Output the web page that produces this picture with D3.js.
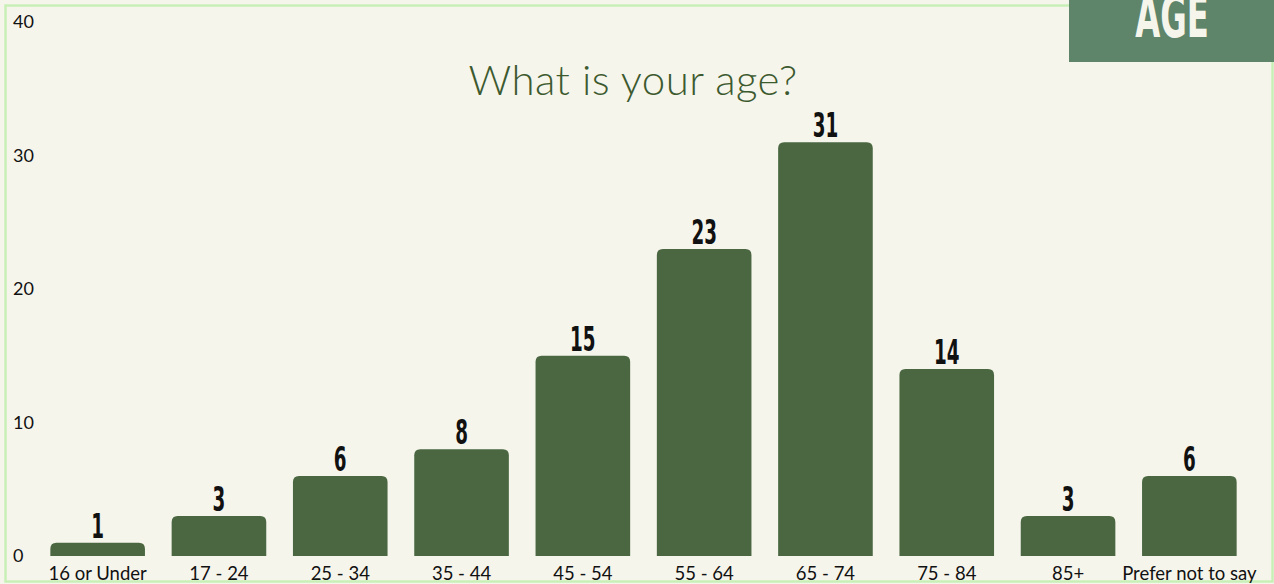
<!DOCTYPE html>
<html>
<head>
<meta charset="utf-8">
<script src="https://cdn.jsdelivr.net/npm/d3@7"></script>
<style>
  body { margin: 0; background: #f6f5ec; }
  svg { display: block; }
</style>
</head>
<body>
<div id="chart"></div>
<script>
// data
var ageGroups = ["16 or Under", "17 - 24", "25 - 34", "35 - 44", "45 - 54", "55 - 64", "65 - 74", "75 - 84", "85+", "Prefer not to say"]
var counts = [1, 3, 6, 8, 15, 23, 31, 14, 3, 6]
var yTicks = [0, 10, 20, 30, 40]

var W = 1274, H = 584
var margin = { top: 22, right: 24, bottom: 28, left: 37 }

var svg = d3.select("#chart")
  .append("svg")
  .attr("width", W)
  .attr("height", H)

svg.append("rect")
  .attr("width", W).attr("height", H)
  .attr("fill", "#f6f5ec")

// light green frame
svg.append("rect")
  .attr("x", 5.5).attr("y", 5.5)
  .attr("width", 1267).attr("height", 576)
  .attr("fill", "none")
  .attr("stroke", "#c8f0b6")
  .attr("stroke-width", 2.5)

var x = d3.scaleBand()
  .range([margin.left, W - margin.right])
  .domain(ageGroups)
  .paddingInner(0.22)
  .paddingOuter(0.11)

var y = d3.scaleLinear()
  .domain([0, 40])
  .range([H - margin.bottom, margin.top])

// y axis: labels only
var yAxis = svg.append("g")
  .attr("transform", "translate(13,0)")
  .call(d3.axisLeft(y).tickValues(yTicks).tickSize(0).tickPadding(0))
yAxis.select(".domain").remove()
yAxis.selectAll("text")
  .attr("text-anchor", "start")
  .attr("font-family", "Lato, sans-serif")
  .attr("font-size", 18)
  .attr("fill", "#111")

// x axis: labels only
var xAxis = svg.append("g")
  .attr("transform", "translate(0," + (H - margin.bottom) + ")")
  .call(d3.axisBottom(x).tickSize(0).tickPadding(11))
xAxis.select(".domain").remove()
xAxis.selectAll("text")
  .attr("font-family", "Lato, sans-serif")
  .attr("font-size", 18.5)
  .attr("fill", "#111")

// bars with rounded top corners
function barPath(d, i) {
  var x0 = x(ageGroups[i]), w = x.bandwidth()
  var y0 = y(d), y1 = y(0), r = Math.min(6, (y1 - y0))
  return "M" + x0 + "," + y1 +
    "V" + (y0 + r) +
    "Q" + x0 + "," + y0 + " " + (x0 + r) + "," + y0 +
    "H" + (x0 + w - r) +
    "Q" + (x0 + w) + "," + y0 + " " + (x0 + w) + "," + (y0 + r) +
    "V" + y1 + "Z"
}

svg.selectAll(".bar")
  .data(counts)
  .enter()
  .append("path")
  .attr("class", "bar")
  .attr("d", barPath)
  .attr("fill", "#4a6741")

// value labels, squeezed to look condensed
svg.selectAll(".val")
  .data(counts)
  .enter()
  .append("g")
  .attr("class", "val")
  .attr("transform", function(d, i) {
    return "translate(" + (x(ageGroups[i]) + x.bandwidth() / 2) + "," + (y(d) - 5) + ") scale(0.6,1)"
  })
  .append("text")
  .attr("text-anchor", "middle")
  .attr("font-family", "'DejaVu Sans Condensed', 'DejaVu Sans', sans-serif")
  .attr("font-weight", "bold")
  .attr("font-size", 34)
  .attr("fill", "#111")
  .text(function(d) { return d })

// title
svg.append("text")
  .attr("x", 633)
  .attr("y", 95)
  .attr("text-anchor", "middle")
  .attr("font-family", "Lato, sans-serif")
  .attr("font-weight", 300)
  .attr("font-size", 42)
  .attr("letter-spacing", 0.4)
  .attr("fill", "#3d5a2f")
  .text("What is your age?")

// AGE tag in the top right corner
svg.append("rect")
  .attr("x", 1069).attr("y", 0)
  .attr("width", 205).attr("height", 62)
  .attr("fill", "#5e846a")

svg.append("g")
  .attr("transform", "translate(1172,37) scale(0.62,1)")
  .append("text")
  .attr("text-anchor", "middle")
  .attr("font-family", "'DejaVu Sans Condensed', 'DejaVu Sans', sans-serif")
  .attr("font-weight", "bold")
  .attr("font-size", 58)
  .attr("fill", "#f6f5ec")
  .text("AGE")
</script>
</body>
</html>
